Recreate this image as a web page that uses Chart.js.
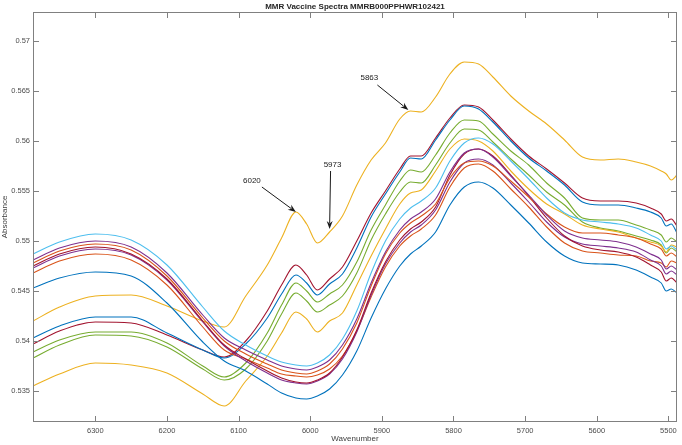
<!DOCTYPE html>
<html>
<head>
<meta charset="utf-8">
<script src="https://cdn.jsdelivr.net/npm/chart.js@4.4.0/dist/chart.umd.min.js"></script>
<style>
  html, body { margin: 0; padding: 0; background: #fff; }
</style>
</head>
<body>
<canvas id="spectra" width="682" height="445"></canvas>
<script>
// wavenumber grid (cm-1)
const wavenumbers = [6387, 6350, 6300, 6250, 6200, 6150, 6120, 6090, 6060, 6040, 6020, 6005, 5990, 5973, 5955, 5935, 5915, 5895, 5875, 5860, 5845, 5825, 5805, 5785, 5765, 5745, 5720, 5695, 5670, 5645, 5620, 5595, 5570, 5545, 5525, 5510, 5503, 5496, 5488];

// spectra that keep the high hump on the left
const lightBlue1 = [0.5487,0.5499,0.5507,0.5501,0.5476,0.5434,0.5410,0.5396,0.5385,0.5379,0.5376,0.5375,0.5378,0.5386,0.5402,0.5430,0.5468,0.5500,0.5522,0.5533,0.5540,0.5553,0.5580,0.5598,0.5603,0.5597,0.5580,0.5562,0.5543,0.5528,0.5521,0.5519,0.5517,0.5513,0.5506,0.5500,0.5492,0.5495,0.5491];
const purple1 = [0.5481,0.5493,0.5500,0.5494,0.5468,0.5426,0.5403,0.5391,0.5381,0.5375,0.5372,0.5371,0.5374,0.5381,0.5396,0.5422,0.5458,0.5489,0.5511,0.5522,0.5529,0.5542,0.5569,0.5588,0.5592,0.5584,0.5565,0.5546,0.5526,0.5510,0.5503,0.5501,0.5499,0.5494,0.5487,0.5481,0.5472,0.5475,0.5471];
const orange1 = [0.5478,0.5490,0.5497,0.5491,0.5465,0.5423,0.5400,0.5387,0.5377,0.5371,0.5368,0.5367,0.5370,0.5377,0.5392,0.5418,0.5455,0.5487,0.5508,0.5518,0.5525,0.5537,0.5563,0.5578,0.5580,0.5575,0.5560,0.5544,0.5527,0.5514,0.5508,0.5508,0.5506,0.5503,0.5497,0.5492,0.5485,0.5488,0.5484];
const crimson1 = [0.5475,0.5487,0.5494,0.5487,0.5462,0.5420,0.5396,0.5382,0.5370,0.5363,0.5359,0.5358,0.5361,0.5368,0.5384,0.5411,0.5448,0.5479,0.5501,0.5512,0.5519,0.5534,0.5566,0.5587,0.5592,0.5585,0.5566,0.5545,0.5523,0.5505,0.5495,0.5491,0.5489,0.5484,0.5476,0.5469,0.5460,0.5463,0.5458];
const purple2 = [0.5473,0.5485,0.5492,0.5486,0.5461,0.5419,0.5395,0.5380,0.5368,0.5361,0.5358,0.5357,0.5360,0.5367,0.5382,0.5409,0.5446,0.5477,0.5498,0.5509,0.5516,0.5531,0.5559,0.5578,0.5582,0.5576,0.5558,0.5539,0.5519,0.5504,0.5497,0.5495,0.5493,0.5489,0.5481,0.5475,0.5467,0.5470,0.5466];
const orange2 = [0.5468,0.5480,0.5487,0.5481,0.5456,0.5414,0.5391,0.5382,0.5373,0.5367,0.5365,0.5364,0.5366,0.5372,0.5385,0.5410,0.5444,0.5474,0.5495,0.5505,0.5512,0.5526,0.5554,0.5573,0.5577,0.5570,0.5552,0.5534,0.5514,0.5498,0.5490,0.5488,0.5486,0.5485,0.5480,0.5478,0.5474,0.5480,0.5478];
const blue1 = [0.5453,0.5463,0.5469,0.5465,0.5438,0.5399,0.5380,0.5370,0.5357,0.5348,0.5343,0.5342,0.5345,0.5352,0.5366,0.5390,0.5423,0.5452,0.5475,0.5487,0.5495,0.5509,0.5536,0.5554,0.5559,0.5553,0.5536,0.5518,0.5499,0.5485,0.5478,0.5477,0.5476,0.5471,0.5464,0.5458,0.5450,0.5452,0.5448];

// spectra with the 6020 / 5973 bands
const yellow1 = [0.5420,0.5434,0.5445,0.5446,0.5435,0.5420,0.5414,0.5445,0.5476,0.5503,0.5529,0.5517,0.5498,0.5509,0.5525,0.5556,0.5581,0.5598,0.5622,0.5630,0.5629,0.5644,0.5667,0.5679,0.5677,0.5664,0.5645,0.5630,0.5617,0.5601,0.5584,0.5581,0.5582,0.5579,0.5575,0.5570,0.5567,0.5561,0.5566];
const crimson2 = [0.5397,0.5410,0.5419,0.5418,0.5406,0.5391,0.5384,0.5400,0.5430,0.5456,0.5476,0.5466,0.5451,0.5462,0.5474,0.5500,0.5528,0.5550,0.5572,0.5585,0.5585,0.5603,0.5623,0.5636,0.5634,0.5621,0.5602,0.5585,0.5572,0.5558,0.5543,0.5540,0.5540,0.5538,0.5533,0.5527,0.5520,0.5522,0.5515];
const blue2 = [0.5403,0.5415,0.5424,0.5424,0.5408,0.5391,0.5383,0.5397,0.5423,0.5447,0.5466,0.5458,0.5446,0.5457,0.5467,0.5493,0.5524,0.5547,0.5569,0.5583,0.5582,0.5601,0.5621,0.5635,0.5632,0.5619,0.5600,0.5583,0.5570,0.5556,0.5539,0.5536,0.5536,0.5533,0.5529,0.5523,0.5515,0.5517,0.5508];
const green1 = [0.5389,0.5401,0.5409,0.5409,0.5398,0.5375,0.5364,0.5378,0.5408,0.5436,0.5458,0.5450,0.5439,0.5447,0.5456,0.5479,0.5511,0.5536,0.5560,0.5571,0.5569,0.5586,0.5608,0.5621,0.5620,0.5607,0.5590,0.5576,0.5558,0.5543,0.5523,0.5521,0.5521,0.5516,0.5511,0.5506,0.5499,0.5503,0.5499];
const green2 = [0.5383,0.5396,0.5406,0.5405,0.5394,0.5372,0.5361,0.5372,0.5400,0.5427,0.5448,0.5440,0.5429,0.5436,0.5445,0.5468,0.5501,0.5527,0.5549,0.5559,0.5558,0.5576,0.5598,0.5612,0.5611,0.5599,0.5582,0.5566,0.5549,0.5536,0.5519,0.5513,0.5510,0.5505,0.5501,0.5496,0.5488,0.5493,0.5489];
const yellow2 = [0.5355,0.5367,0.5378,0.5376,0.5368,0.5347,0.5335,0.5360,0.5385,0.5408,0.5429,0.5422,0.5409,0.5420,0.5428,0.5456,0.5485,0.5512,0.5537,0.5548,0.5551,0.5570,0.5592,0.5602,0.5600,0.5590,0.5570,0.5552,0.5537,0.5527,0.5516,0.5512,0.5509,0.5503,0.5499,0.5495,0.5489,0.5496,0.5494];

const allSpectra = [lightBlue1, purple1, orange1, crimson1, purple2, orange2, blue1,
                    yellow2, green2, green1, blue2, crimson2, yellow1];
const lineColors = ['#4DBEEE', '#7E2F8E', '#D95319', '#A2142F', '#7E2F8E', '#D95319', '#0072BD',
                    '#EDB120', '#77AC30', '#77AC30', '#0072BD', '#A2142F', '#EDB120'];

// axis ticks
const xTicks = [6300, 6200, 6100, 6000, 5900, 5800, 5700, 5600, 5500];
const yTicks = [0.535, 0.54, 0.545, 0.55, 0.555, 0.56, 0.565, 0.57];

// peak labels on the top spectrum
const peakLabels = ['6020', '5973', '5863'];
const peakX = [6020, 5973, 5863];
const peakY = [0.5529, 0.5512, 0.5631];

const titleText = 'MMR Vaccine Spectra MMRB000PPHWR102421';

// box, inward ticks, titles and arrows, MATLAB style
const matlabFrame = {
  id: 'matlabFrame',
  afterDraw(chart) {
    const { ctx, chartArea: a, scales: { x, y } } = chart;
    ctx.save();

    ctx.strokeStyle = '#808080';
    ctx.lineWidth = 1;
    ctx.strokeRect(a.left + 0.5, a.top + 0.5, a.right - a.left - 1, a.bottom - a.top - 1);
    ctx.beginPath();
    xTicks.forEach(v => {
      const px = Math.round(x.getPixelForValue(v)) + 0.5;
      ctx.moveTo(px, a.bottom); ctx.lineTo(px, a.bottom - 6);
      ctx.moveTo(px, a.top); ctx.lineTo(px, a.top + 6);
    });
    yTicks.forEach(v => {
      const py = Math.round(y.getPixelForValue(v)) + 0.5;
      ctx.moveTo(a.left, py); ctx.lineTo(a.left + 6, py);
      ctx.moveTo(a.right, py); ctx.lineTo(a.right - 6, py);
    });
    ctx.stroke();

    // titles
    ctx.fillStyle = '#262626';
    ctx.textAlign = 'center';
    ctx.textBaseline = 'middle';
    ctx.font = 'bold 8px "Liberation Sans", Arial, sans-serif';
    ctx.fillText(titleText, (a.left + a.right) / 2, 6.5);
    ctx.fillStyle = '#404040';
    ctx.font = '8px "Liberation Sans", Arial, sans-serif';
    ctx.fillText('Wavenumber', (a.left + a.right) / 2, 439);
    ctx.save();
    ctx.translate(5, (a.top + a.bottom) / 2);
    ctx.rotate(-Math.PI / 2);
    ctx.fillText('Absorbance', 0, 0);
    ctx.restore();

    // arrows to the peaks
    const tails = [[-34, -25], [1, -58], [-31, -25]];
    const labelPos = [[-44, -31], [3, -64], [-39, -32]];
    ctx.strokeStyle = '#1a1a1a';
    ctx.fillStyle = '#1a1a1a';
    peakLabels.forEach((t, i) => {
      const tx = x.getPixelForValue(peakX[i]);
      const ty = y.getPixelForValue(peakY[i]);
      const sx = tx + tails[i][0], sy = ty + tails[i][1];
      const ang = Math.atan2(ty - sy, tx - sx);
      ctx.beginPath();
      ctx.moveTo(sx, sy);
      ctx.lineTo(tx - 6 * Math.cos(ang), ty - 6 * Math.sin(ang));
      ctx.stroke();
      ctx.beginPath();
      ctx.moveTo(tx, ty);
      ctx.lineTo(tx - 8 * Math.cos(ang) + 3 * Math.sin(ang), ty - 8 * Math.sin(ang) - 3 * Math.cos(ang));
      ctx.lineTo(tx - 5.5 * Math.cos(ang), ty - 5.5 * Math.sin(ang));
      ctx.lineTo(tx - 8 * Math.cos(ang) - 3 * Math.sin(ang), ty - 8 * Math.sin(ang) + 3 * Math.cos(ang));
      ctx.closePath();
      ctx.fill();
      ctx.font = '8px "Liberation Sans", Arial, sans-serif';
      ctx.fillText(t, tx + labelPos[i][0], ty + labelPos[i][1]);
    });
    ctx.restore();
  }
};

const ctx = document.getElementById('spectra').getContext('2d');
const spectraChart = new Chart(ctx, {
  type: 'line',
  data: {
    datasets: allSpectra.map((s, i) => ({
      data: s.map((v, j) => ({ x: wavenumbers[j], y: v })),
      borderColor: lineColors[i],
      borderWidth: 1.1,
      pointRadius: 0,
      fill: false,
      cubicInterpolationMode: 'monotone'
    }))
  },
  options: {
    responsive: false,
    animation: false,
    layout: { padding: { top: 12, right: 5, left: 0, bottom: 0 } },
    plugins: { legend: { display: false }, tooltip: { enabled: false }, title: { display: false } },
    scales: {
      x: {
        type: 'linear',
        reverse: true,
        min: 5488,
        max: 6387,
        grid: { display: false, drawTicks: false },
        border: { display: false },
        afterBuildTicks: s => { s.ticks = xTicks.map(v => ({ value: v })); },
        afterFit: s => { s.height = 23; },
        ticks: {
          padding: 4,
          maxRotation: 0,
          autoSkip: false,
          color: '#4d4d4d',
          font: { family: '"Liberation Sans", Arial, sans-serif', size: 7.5 },
          callback: v => String(v)
        }
      },
      y: {
        min: 0.5319,
        max: 0.5729,
        grid: { display: false, drawTicks: false },
        border: { display: false },
        afterBuildTicks: s => { s.ticks = yTicks.map(v => ({ value: v })); },
        afterFit: s => { s.width = 33; },
        ticks: {
          padding: 3,
          autoSkip: false,
          color: '#4d4d4d',
          font: { family: '"Liberation Sans", Arial, sans-serif', size: 7.5 },
          callback: v => String(+v.toFixed(3))
        }
      }
    }
  },
  plugins: [matlabFrame]
});
</script>
</body>
</html>
